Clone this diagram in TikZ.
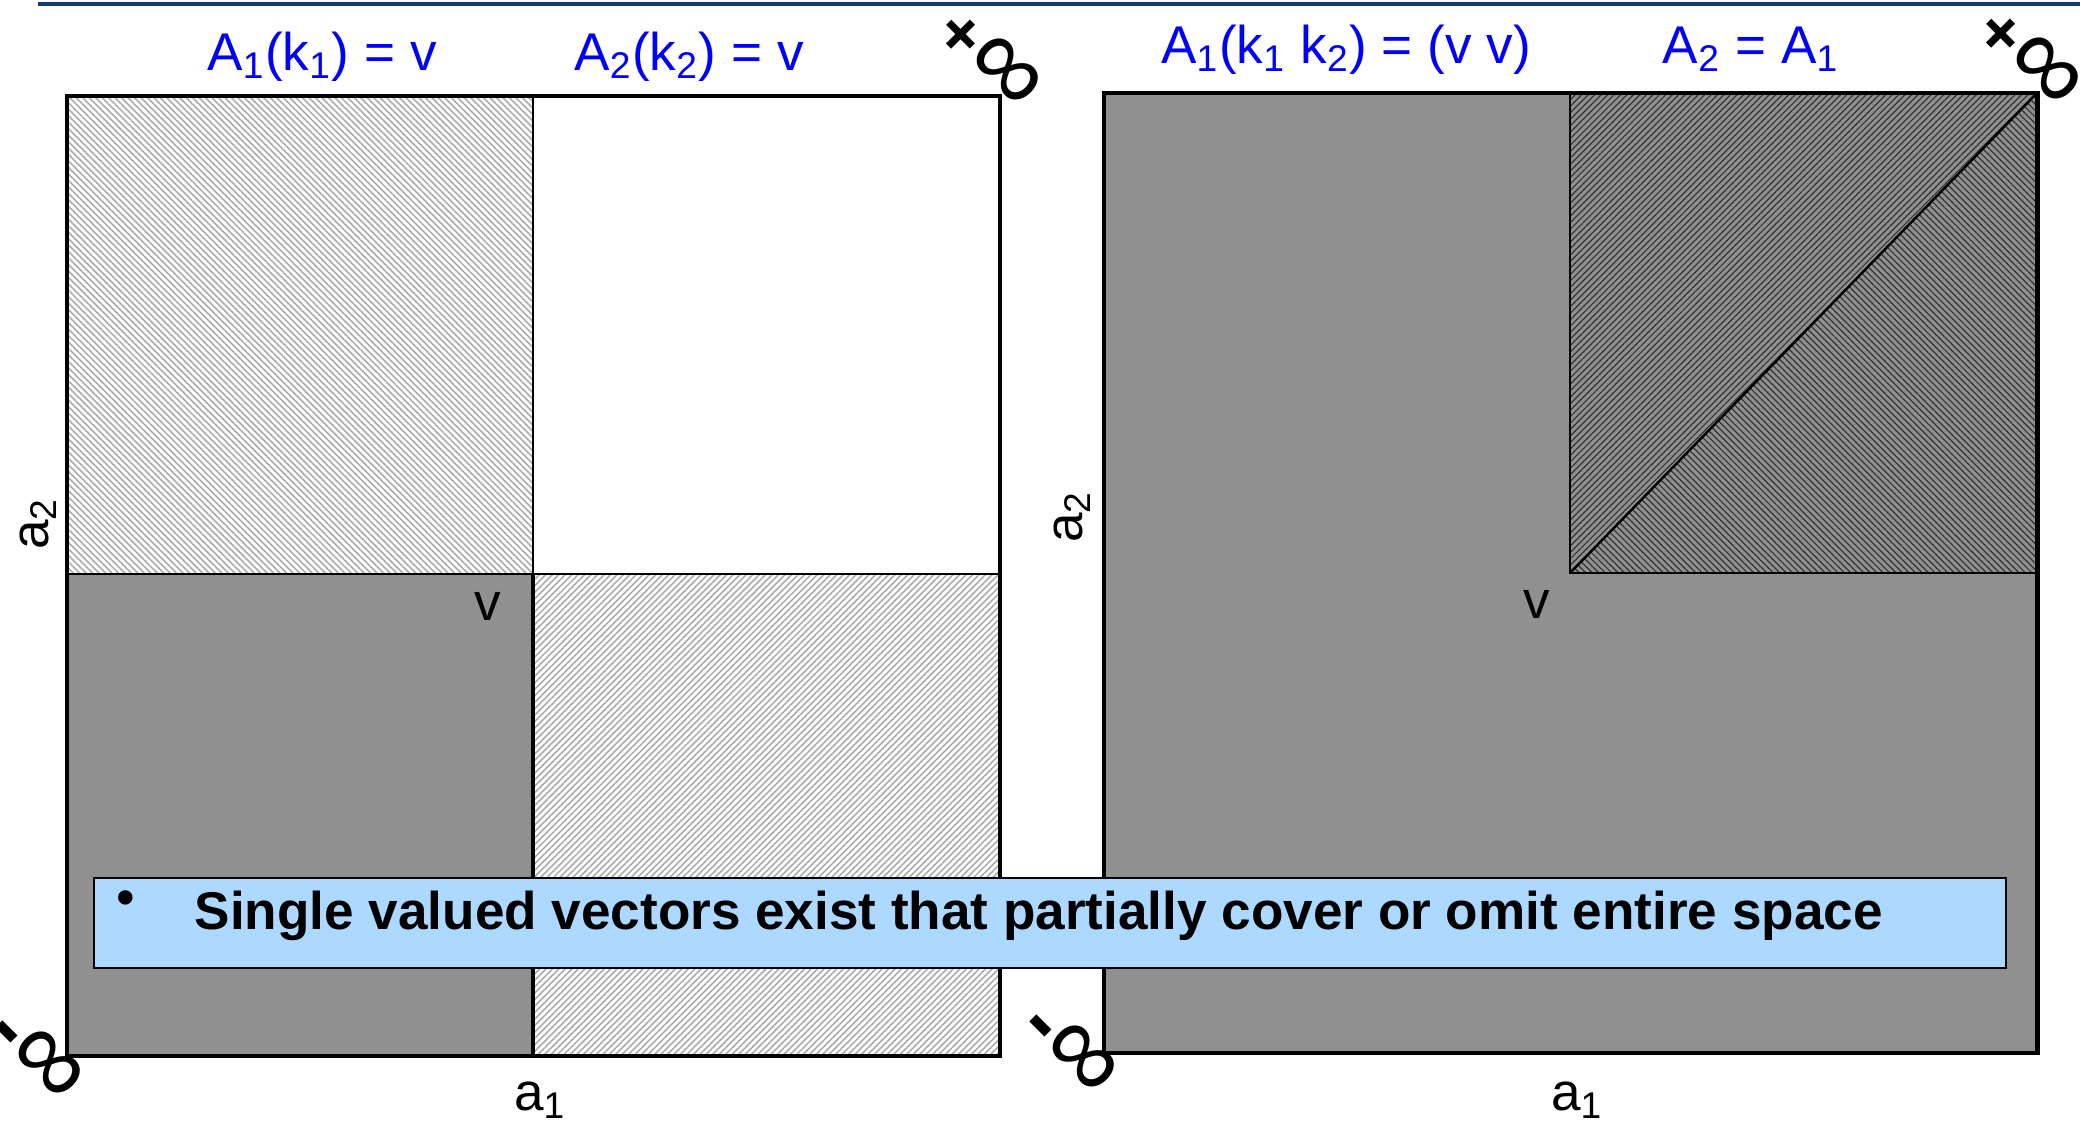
\documentclass[tikz,border=0pt]{standalone}
\usepackage{fontspec}
\setmainfont{Liberation Sans}
\usetikzlibrary{patterns.meta, positioning}
\definecolor{rulebar}{RGB}{16, 60, 110}
\definecolor{cellgray}{RGB}{144, 144, 144}
\definecolor{notebg}{RGB}{173, 216, 255}
\definecolor{labelblue}{RGB}{0, 0, 255}
\definecolor{hatchgray}{RGB}{170, 170, 170}
\newcommand{\infsym}{{\mdseries\fontsize{30}{32}\selectfont ∞}}

\begin{document}
\begin{tikzpicture}[
  x=0.01cm, y=-0.01cm,
  lbl/.style={font=\fontsize{15.1}{18}\selectfont, inner sep=0pt},
  head/.style={lbl, text=labelblue},
  inf/.style={inner sep=0pt, rotate=-45, font=\fontsize{19}{22}\selectfont\bfseries},
  boxline/.style={line width=1.4pt},
  gridline/.style={line width=0.7pt},
  lighthatch/.style={pattern={Lines[angle=#1, distance=1.3pt, line width=0.45pt]}, pattern color=hatchgray},
  darkhatch/.style={pattern={Lines[angle=#1, distance=1.3pt, line width=0.34pt]}, pattern color=black!80},
  note/.style={draw=black, line width=0.5pt, fill=notebg, inner sep=0pt},
]
  \useasboundingbox (0,0) rectangle (2080,1127);
  \draw[rulebar, line width=1.4pt] (38,4) -- (2080,4);

  % left panel
  \coordinate (Ltl) at (67,96);
  \coordinate (Lbr) at (1000,1056);
  \coordinate (Lmid) at (533,574);
  \fill[cellgray] (67,1056) rectangle (Lmid);
  \path[lighthatch=-45] (Ltl) rectangle (Lmid);
  \path[lighthatch=45] (Lmid) rectangle (Lbr);
  \draw[gridline] (67,574) -- (1000,574);
  \draw[gridline] (533,96) -- (Lmid);
  \draw[boxline] (Lmid) -- (533,1056);
  \draw[boxline] (Ltl) rectangle (Lbr);

  % right panel
  \coordinate (Rtl) at (1104,93);
  \coordinate (Rbr) at (2037,1053);
  \coordinate (Rmid) at (1570,573);
  \fill[cellgray] (Rtl) rectangle (Rbr);
  \path[darkhatch=45] (Rmid) -- (1570,93) -- (2037,93) -- cycle;
  \path[darkhatch=-45] (Rmid) -- (2037,93) -- (2037,573) -- cycle;
  \draw[gridline] (Rmid) rectangle (2037,93);
  \draw[gridline] (Rmid) -- (2037,93);
  \draw[boxline] (Rtl) rectangle (Rbr);

  % headings
  \node[head, anchor=base] (hA) at (322,70) {A\textsubscript{1}(k\textsubscript{1}) = v};
  \node[head, anchor=base] (hB) at (689,70) {A\textsubscript{2}(k\textsubscript{2}) = v};
  \node[head, anchor=base] (hC) at (1346,63) {A\textsubscript{1}(k\textsubscript{1} k\textsubscript{2}) = (v v)};
  \node[head, anchor=base] (hD) at (1751,63) {A\textsubscript{2} = A\textsubscript{1}};

  % axis labels
  \node[lbl, rotate=90] (aL2) at (38,524) {a\textsubscript{2}};
  \node[lbl, rotate=90] (aR2) at (1072,517) {a\textsubscript{2}};
  \node[lbl, anchor=base] (aL1) at (540,1110) {a\textsubscript{1}};
  \node[lbl, anchor=base] (aR1) at (1577,1110) {a\textsubscript{1}};
  \node[lbl, anchor=base] (vL) at (488,620) {v};
  \node[lbl, anchor=base] (vR) at (1537,618) {v};

  % infinities
  \node[inf] (pinfL) at (990,59) {+\infsym};
  \node[inf] (pinfR) at (2030,58) {+\infsym};
  \node[inf] (minfL) at (36,1056) {{\fontsize{24}{26}\selectfont -}\infsym};
  \node[inf] (minfR) at (1070,1050) {{\fontsize{24}{26}\selectfont -}\infsym};

  % note
  \node[note, anchor=north west, minimum width=19.11cm, minimum height=0.9cm] (memo) at (93,877) {};
  \node[lbl] (dot) at (126,903) {•};
  \node[lbl, font=\fontsize{15.1}{18}\selectfont\bfseries, anchor=base west] (msg) at (194,929)
    {Single valued vectors exist that partially cover or omit entire space};
\end{tikzpicture}
\end{document}
